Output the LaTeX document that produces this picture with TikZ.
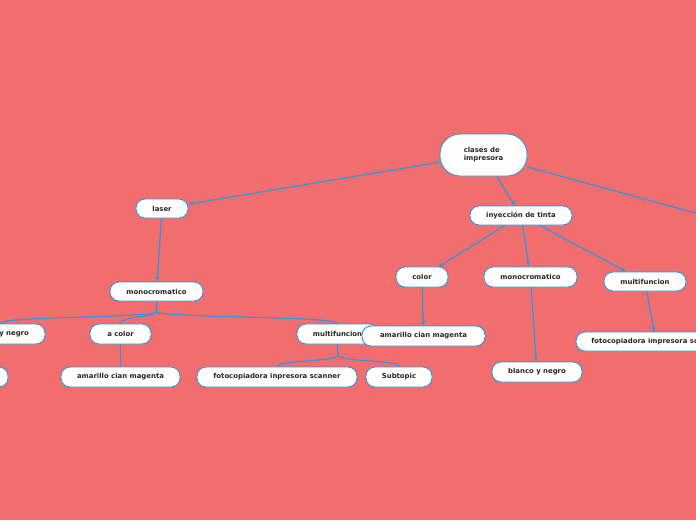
\documentclass[tikz,border=0pt]{standalone}
\usepackage{fontspec}
\setmainfont{DejaVu Sans}
\usetikzlibrary{arrows.meta}
\definecolor{bgred}{HTML}{F26E6E}
\definecolor{lineblue}{HTML}{2D97DE}
\begin{document}
\begin{tikzpicture}[x=1pt,y=-1pt,
  topic/.style={draw=lineblue,line width=0.9pt,fill=white,rounded corners=9pt,
    minimum height=20pt,inner sep=0pt,font=\fontsize{6.9}{8}\selectfont\bfseries,text=black!85},
  conn/.style={draw=lineblue,line width=1.2pt},
  arr/.style={conn,-{Stealth[length=5pt,width=4pt]}}]
\useasboundingbox (0,0) rectangle (696,520);
\fill[bgred] (0,0) rectangle (696,520);
% nodes
\node[topic,rounded corners=20pt,minimum width=87pt,minimum height=42pt,align=left] (root) at (483.5,155) {clases de\\impresora};
\node[topic,minimum width=52pt,minimum height=19pt] (laser) at (162,208.5) {laser};
\node[topic,minimum width=102pt,minimum height=19pt] (iny) at (521,215.5) {inyección de tinta};
\node[topic,minimum width=93pt,minimum height=19pt] (monoL) at (156.5,291.5) {monocromatico};
\node[topic,minimum width=90pt] (ynegro) at (0,334) {blanco y negro};
\node[topic,minimum width=61pt] (acolor) at (120.5,334) {a color};
\node[topic,minimum width=81pt] (multiL) at (337.5,334) {multifuncion};
\node[topic,minimum width=123pt] (amaR) at (423.5,336) {amarillo cian magenta};
\node[topic,minimum width=40pt] (hidden) at (-12,377) {};
\node[topic,minimum width=119pt] (amaL) at (120.5,377) {amarillo cian magenta};
\node[topic,minimum width=160pt] (fotoL) at (277,377) {fotocopiadora inpresora scanner};
\node[topic,minimum width=66pt] (sub) at (399,377) {Subtopic};
\node[topic,minimum width=52pt] (color) at (422,277) {color};
\node[topic,minimum width=93pt] (monoR) at (530.5,277) {monocromatico};
\node[topic,minimum width=82pt,minimum height=19pt] (multiR) at (645,281.5) {multifuncion};
\node[topic,minimum width=90pt] (blanco) at (537,372) {blanco y negro};
\node[topic,minimum width=160pt,minimum height=19pt] (fotoR) at (656,341.5) {fotocopiadora impresora scanner};
\coordinate (off) at (710,217);
% arrows
\draw[arr] (root) -- (laser);
\draw[arr] (root) -- (iny);
\draw[conn] (root) -- (off);
\draw[arr] (laser) -- (monoL);
\draw[arr] (iny) -- (color);
\draw[arr] (iny) -- (monoR);
\draw[arr] (iny) -- (multiR);
\draw[arr] (color) -- (amaR);
\draw[arr] (monoR) -- (blanco);
\draw[arr] (multiR) -- (fotoR);
% tree branches
\coordinate (j1) at (157,312);
\draw[conn] (monoL.south) -- (j1);
\draw[conn] (j1) .. controls (150,318) and (0,316) .. (ynegro.north);
\draw[conn] (j1) .. controls (150,318) and (122,316) .. (acolor.north);
\draw[conn] (j1) .. controls (165,318) and (337,316) .. (multiL.north);
\draw[conn] (acolor) -- (amaL);
\coordinate (j2) at (338,356);
\draw[conn] (multiL.south) -- (j2);
\draw[conn] (j2) .. controls (330,362) and (278,360) .. (fotoL.north);
\draw[conn] (j2) .. controls (346,362) and (399,360) .. (sub.north);
\end{tikzpicture}
\end{document}
